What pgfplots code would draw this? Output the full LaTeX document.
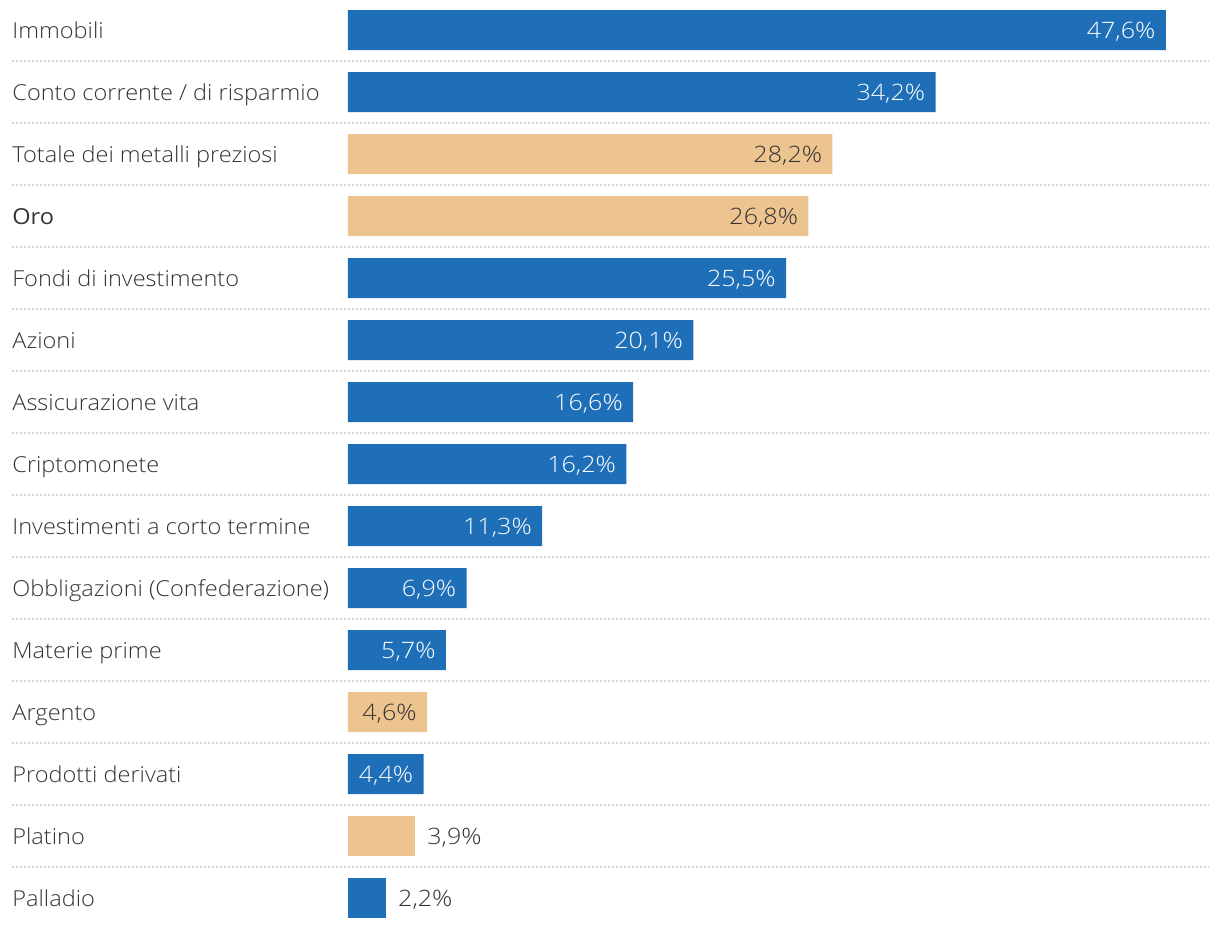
\documentclass[border=0pt]{standalone}
\usepackage{pgfplots}
\pgfplotsset{compat=1.18}
\usepackage{fontspec}
\setmainfont{Open Sans Light}[FakeStretch=1.07]
\newfontfamily\regfont{Open Sans}[FakeStretch=1.07]
\newfontfamily\valfont{Open Sans Light}[FakeStretch=1.11]
\definecolor{barblue}{HTML}{1F6FB8}
\definecolor{bartan}{HTML}{EDC48F}
\definecolor{txtgray}{HTML}{333333}
\definecolor{sepgray}{HTML}{D6D6D6}
\begin{document}
\begin{tikzpicture}
\begin{axis}[
  scale only axis,
  width=430pt, height=464pt,
  xmin=0, xmax=50.058,
  ymin=-0.484, ymax=14.484,
  y dir=reverse,
  xbar, bar width=20pt,
  axis line style={draw=none},
  hide x axis,
  major tick length=0pt,
  ytick={0,...,14},
  yticklabels={Immobili,Conto corrente / di risparmio,Totale dei metalli preziosi,{\regfont Oro},Fondi di investimento,Azioni,Assicurazione vita,Criptomonete,Investimenti a corto termine,Obbligazioni (Confederazione),Materie prime,Argento,Prodotti derivati,Platino,Palladio},
  yticklabel style={anchor=base west, inner sep=0pt, xshift=-168pt, yshift=-4.2pt, font=\fontsize{11}{13}\selectfont, text=txtgray},
  clip=false,
  point meta=x,
  /pgf/number format/assume math mode=true,
  nodes near coords={\pgfmathprintnumber[fixed,precision=1,fixed zerofill,use comma]{\pgfplotspointmeta}\%},
  nodes near coords style={font=\valfont\fontsize{11.3}{13}\selectfont, inner sep=0pt},
]
\foreach \k in {0.5,1.5,...,13.5} {
  \edef\temp{\noexpand\draw[sepgray, line width=1pt, dash pattern=on 1pt off 1pt] (axis cs:-19.56,\k) -- (axis cs:50.058,\k);}
  \temp
}
\addplot[xbar, bar shift=0pt, fill=barblue, draw=none,
  every node near coord/.append style={anchor=base east, xshift=-5pt, yshift=-4.3pt, text=white}]
  coordinates {(47.6,0) (34.2,1) (25.5,4) (20.1,5) (16.6,6) (16.2,7) (11.3,8) (6.9,9) (5.7,10) (4.4,12)};
\addplot[xbar, bar shift=0pt, fill=bartan, draw=none,
  every node near coord/.append style={anchor=base east, xshift=-5pt, yshift=-4.3pt, text=txtgray}]
  coordinates {(28.2,2) (26.8,3) (4.6,11)};
\addplot[xbar, bar shift=0pt, fill=bartan, draw=none,
  every node near coord/.append style={anchor=base west, xshift=6pt, yshift=-4.3pt, text=txtgray}]
  coordinates {(3.9,13)};
\addplot[xbar, bar shift=0pt, fill=barblue, draw=none,
  every node near coord/.append style={anchor=base west, xshift=6pt, yshift=-4.3pt, text=txtgray}]
  coordinates {(2.2,14)};
\end{axis}
\useasboundingbox ([xshift=-174pt]current axis.south west) rectangle ([xshift=6pt]current axis.north east);
\end{tikzpicture}
\end{document}
